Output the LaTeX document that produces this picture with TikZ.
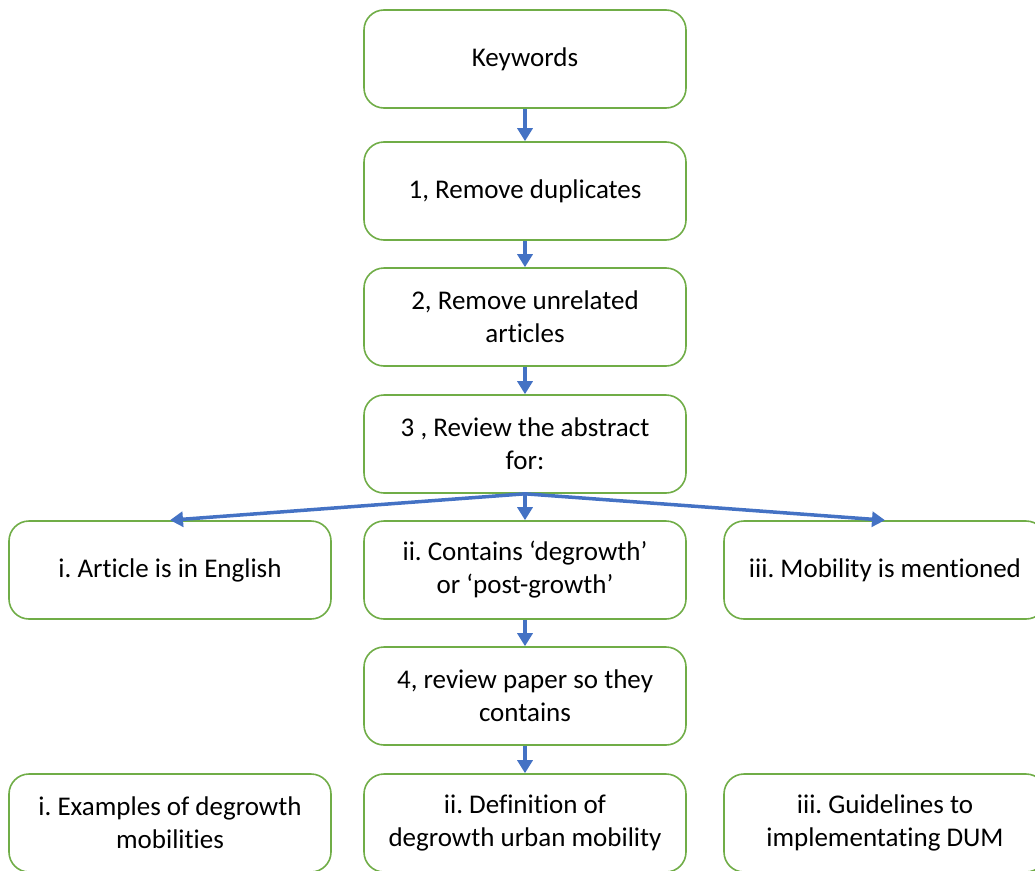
\documentclass[tikz,border=0pt]{standalone}
\usepackage{fontspec}
\setmainfont{Carlito}[Ligatures=NoCommon]
\usetikzlibrary{arrows.meta}
\definecolor{boxgreen}{HTML}{70AD47}
\definecolor{arrowblue}{HTML}{4472C4}
\frenchspacing
\begin{document}
\begin{tikzpicture}[x=1pt, y=-1pt,
  every node/.style={font=\fontsize{27}{33}\selectfont},
  stepbox/.style={rectangle, rounded corners=20pt, draw=boxgreen, line width=1.6pt,
    fill=white, minimum width=322pt, minimum height=98pt, align=center, inner sep=0pt},
  flow/.style={-{Triangle[length=13pt, width=15pt]}, arrowblue, line width=3.5pt}]
  \useasboundingbox (0,0) rectangle (1035,870);
  \node[stepbox] (kw) at (525,59) {Keywords};
  \node[stepbox] (s1) at (525,191) {1, Remove duplicates};
  \node[stepbox] (s2) at (525,317) {2, Remove unrelated\\articles};
  \node[stepbox] (s3) at (525,444) {3 , Review the abstract\\for:};
  \node[stepbox] (c1) at (170,570) {i. Article is in English};
  \node[stepbox] (c2) at (525,570) {ii. Contains ‘degrowth’\\or ‘post-growth’};
  \node[stepbox] (c3) at (885,570) {iii. Mobility is mentioned};
  \node[stepbox] (s4) at (525,696) {4, review paper so they\\contains};
  \node[stepbox] (r1) at (170,823) {i. Examples of degrowth\\mobilities};
  \node[stepbox] (r2) at (525,823) {ii. Definition of\\degrowth urban mobility};
  \node[stepbox] (r3) at (885,823) {iii. Guidelines to\\implementating DUM};
  \draw[flow] (kw) -- (s1);
  \draw[flow] (s1) -- (s2);
  \draw[flow] (s2) -- (s3);
  % fan out to the three checks
  \draw[flow] (s3.south) -- (c1.north);
  \draw[flow] (s3.south) -- (c2.north);
  \draw[flow] (s3.south) -- (c3.north);
  \draw[flow] (c2) -- (s4);
  \draw[flow] (s4) -- (r2);
\end{tikzpicture}
\end{document}
